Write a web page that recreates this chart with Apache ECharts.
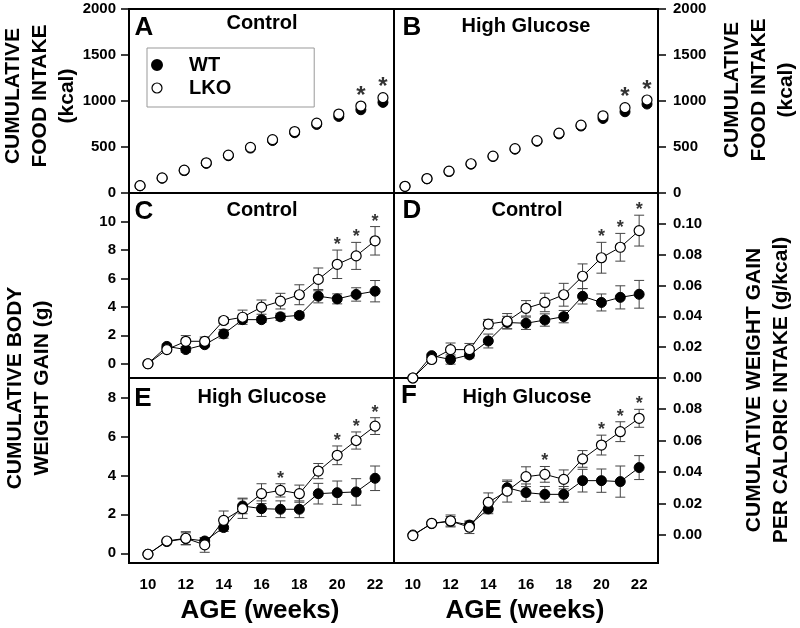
<!DOCTYPE html>
<html>
<head>
<meta charset="utf-8">
<script src="https://cdn.jsdelivr.net/npm/echarts@6/dist/echarts.min.js"></script>
<style>html,body{margin:0;padding:0;background:#fff}#chart{width:800px;height:628px}</style>
</head>
<body>
<div id="chart"></div>
<script>
// weeks on the growth panels (C-F) and on the food intake panels (A, B)
const weeks = [10, 11, 12, 13, 14, 15, 16, 17, 18, 19, 20, 21, 22]
const intakeWeeks = [11, 12, 13, 14, 15, 16, 17, 18, 19, 20, 21, 22]

// A: food intake, control diet (kcal)
const foodWTCtrl = [78, 160, 243, 322, 405, 488, 570, 655, 745, 832, 905, 985]
const foodLKOCtrl = [80, 164, 248, 328, 412, 496, 580, 668, 759, 858, 945, 1036]
// B: food intake, high glucose (kcal)
const foodWTHG = [71, 154, 233, 313, 396, 476, 562, 642, 728, 810, 883, 967]
const foodLKOHG = [73, 157, 237, 318, 401, 482, 569, 650, 737, 839, 927, 1011]

// C: body weight gain, control (g)
const gainWTCtrl = [0, 1.22, 1.0, 1.34, 2.1, 3.1, 3.1, 3.3, 3.4, 4.75, 4.56, 4.87, 5.1]
const gainWTCtrlErr = [0, 0.15, 0.2, 0.15, 0.3, 0.2, 0.2, 0.25, 0.2, 0.47, 0.35, 0.47, 0.75]
const gainLKOCtrl = [0, 1.0, 1.58, 1.58, 3.04, 3.27, 3.98, 4.4, 4.85, 5.93, 6.99, 7.58, 8.64]
const gainLKOCtrlErr = [0, 0.1, 0.4, 0.3, 0.2, 0.5, 0.5, 0.55, 0.7, 0.8, 1.0, 0.95, 1.0]

// D: gain per caloric intake, control (g/kcal)
const effWTCtrl = [0, 0.0145, 0.012, 0.015, 0.024, 0.036, 0.0355, 0.0376, 0.0398, 0.053, 0.049, 0.0523, 0.0543]
const effWTCtrlErr = [0, 0.001, 0.003, 0.002, 0.0045, 0.004, 0.004, 0.004, 0.004, 0.005, 0.0055, 0.0075, 0.009]
const effLKOCtrl = [0, 0.012, 0.0184, 0.0184, 0.035, 0.0368, 0.0452, 0.049, 0.054, 0.066, 0.078, 0.0848, 0.0956]
const effLKOCtrlErr = [0, 0.001, 0.0043, 0.004, 0.003, 0.005, 0.005, 0.006, 0.0074, 0.008, 0.010, 0.009, 0.010]

// E: body weight gain, high glucose (g)
const gainWTHG = [-0.05, 0.6, 0.75, 0.63, 1.32, 2.43, 2.29, 2.26, 2.26, 3.06, 3.11, 3.15, 3.85]
const gainWTHGErr = [0, 0.05, 0.3, 0.15, 0.2, 0.4, 0.4, 0.43, 0.43, 0.53, 0.6, 0.68, 0.63]
const gainLKOHG = [-0.05, 0.63, 0.77, 0.43, 1.69, 2.29, 3.06, 3.23, 3.06, 4.22, 5.03, 5.79, 6.53]
const gainLKOHGErr = [0, 0.05, 0.34, 0.38, 0.48, 0.5, 0.51, 0.34, 0.44, 0.39, 0.48, 0.44, 0.43]

// F: gain per caloric intake, high glucose (g/kcal)
const effWTHG = [0, 0.0072, 0.0087, 0.0063, 0.0165, 0.030, 0.0269, 0.0258, 0.0258, 0.0345, 0.0345, 0.0339, 0.0428]
const effWTHGErr = [0, 0.0005, 0.003, 0.002, 0.003, 0.004, 0.0055, 0.005, 0.005, 0.0072, 0.0074, 0.0099, 0.0076]
const effLKOHG = [-0.0004, 0.0074, 0.0089, 0.0049, 0.0207, 0.0279, 0.037, 0.0385, 0.0353, 0.0483, 0.0571, 0.0656, 0.0741]
const effLKOHGErr = [0, 0.0005, 0.0038, 0.004, 0.006, 0.007, 0.0063, 0.005, 0.006, 0.0053, 0.0063, 0.0063, 0.0057]

// weeks marked with * (significant)
const starsA = [21, 22]
const starsB = [21, 22]
const starsC = [20, 21, 22]
const starsD = [20, 21, 22]
const starsE = [17, 20, 21, 22]
const starsF = [17, 20, 21, 22]

// tick labels
const xTicks = [10, 12, 14, 16, 18, 20, 22]
const foodTicks = [0, 500, 1000, 1500, 2000]
const gainCtrlTicks = [0, 2, 4, 6, 8, 10]
const gainHGTicks = [0, 2, 4, 6, 8]
const effCtrlTicks = [0, 0.02, 0.04, 0.06, 0.08, 0.10]
const effHGTicks = [0, 0.02, 0.04, 0.06, 0.08]

const FONT = 'Liberation Sans'

let chart = echarts.init(document.getElementById('chart'))

let pairs = (xs, ys) => xs.map((x, i) => [x, ys[i]])

let yAx = (g, pos, min, max, ticks, dec) => ({
  gridIndex: g,
  type: 'value',
  position: pos,
  min: min,
  max: max,
  splitLine: { show: false },
  axisLine: { show: false },
  axisTick: { show: true, inside: false, length: 8, customValues: ticks, lineStyle: { color: '#000', width: 1.5 } },
  axisLabel: {
    customValues: ticks,
    margin: pos === 'left' ? 13 : 15,
    color: '#000',
    fontSize: 15,
    fontWeight: 'bold',
    fontFamily: FONT,
    formatter: v => dec ? v.toFixed(dec) : String(v),
  },
})

let xAx = (g, min, max, labels) => labels ? {
  gridIndex: g,
  type: 'value',
  min: min,
  max: max,
  splitLine: { show: false },
  axisLine: { show: false },
  axisTick: { show: false },
  axisLabel: { customValues: xTicks, margin: 14, color: '#000', fontSize: 15, fontWeight: 'bold', fontFamily: FONT },
} : { gridIndex: g, type: 'value', min: min, max: max, show: false }

let errorBars = (g, ys, es) => ({
  type: 'custom',
  xAxisIndex: g,
  yAxisIndex: g,
  z: 1,
  silent: true,
  data: weeks.map((w, i) => [w, ys[i], es[i]]),
  renderItem: (params, api) => {
    let x = api.value(0), y = api.value(1), e = api.value(2)
    if (!e) return
    let top = api.coord([x, y + e])
    let bot = api.coord([x, y - e])
    let st = { stroke: '#444', lineWidth: 1 }
    return {
      type: 'group',
      children: [
        { type: 'line', shape: { x1: top[0], y1: top[1], x2: bot[0], y2: bot[1] }, style: st },
        { type: 'line', shape: { x1: top[0] - 5, y1: top[1], x2: top[0] + 5, y2: top[1] }, style: st },
        { type: 'line', shape: { x1: bot[0] - 5, y1: bot[1], x2: bot[0] + 5, y2: bot[1] }, style: st },
      ],
    }
  },
})

let wtStyle = { color: '#000', borderColor: '#000', borderWidth: 1, opacity: 1 }
let lkoStyle = { color: '#fff', borderColor: '#000', borderWidth: 1.2, opacity: 1 }

let growthLine = (g, name, ys, style, z) => ({
  type: 'line',
  name: name,
  xAxisIndex: g,
  yAxisIndex: g,
  z: z,
  data: pairs(weeks, ys),
  symbol: 'circle',
  symbolSize: 10,
  showSymbol: true,
  lineStyle: { color: '#000', width: 1 },
  itemStyle: style,
})

let intakeDots = (g, name, ys, style, z) => ({
  type: 'scatter',
  name: name,
  xAxisIndex: g,
  yAxisIndex: g,
  z: z,
  data: pairs(intakeWeeks, ys),
  symbol: 'circle',
  symbolSize: 10,
  itemStyle: style,
})

let stars = (g, marks, xs, ys, es, size, dy) => ({
  type: 'scatter',
  xAxisIndex: g,
  yAxisIndex: g,
  z: 5,
  silent: true,
  symbolSize: 0,
  itemStyle: { color: 'transparent' },
  data: marks.map(w => {
    let i = xs.indexOf(w)
    return [w, ys[i] + (es ? es[i] : 0)]
  }),
  label: {
    show: true,
    position: 'inside',
    offset: [0, dy],
    formatter: '*',
    color: '#000',
    fontSize: size,
    fontWeight: 'bold',
    fontFamily: FONT,
  },
})

let txt = (text, x, y, size, rot, lh) => ({
  type: 'text',
  x: x,
  y: y,
  rotation: rot || 0,
  style: {
    text: text,
    fill: '#000',
    font: 'bold ' + size + 'px ' + FONT,
    textAlign: 'center',
    textVerticalAlign: 'middle',
    lineHeight: lh || size,
  },
})

let gridBox = { show: true, borderColor: '#000', borderWidth: 2, backgroundColor: 'transparent' }

let options = {
  animation: false,
  backgroundColor: '#fff',
  grid: [
    Object.assign({ left: 129, top: 9, width: 265, height: 184 }, gridBox),
    Object.assign({ left: 394, top: 9, width: 264, height: 184 }, gridBox),
    Object.assign({ left: 129, top: 193, width: 265, height: 185 }, gridBox),
    Object.assign({ left: 394, top: 193, width: 264, height: 185 }, gridBox),
    Object.assign({ left: 129, top: 378, width: 265, height: 185 }, gridBox),
    Object.assign({ left: 394, top: 378, width: 264, height: 185 }, gridBox),
  ],
  xAxis: [
    xAx(0, 10.5, 22.5, false),
    xAx(1, 10.5, 22.5, false),
    xAx(2, 9, 23, false),
    xAx(3, 9, 23, false),
    xAx(4, 9, 23, true),
    xAx(5, 9, 23, true),
  ],
  yAxis: [
    yAx(0, 'left', 0, 2000, foodTicks, 0),
    yAx(1, 'right', 0, 2000, foodTicks, 0),
    yAx(2, 'left', -1, 12, gainCtrlTicks, 0),
    yAx(3, 'right', 0, 0.12, effCtrlTicks, 2),
    yAx(4, 'left', -0.5, 9, gainHGTicks, 0),
    yAx(5, 'right', -0.0178, 0.0997, effHGTicks, 2),
  ],
  legend: {
    left: 147,
    top: 48,
    orient: 'vertical',
    padding: [7, 83, 9, 4],
    itemGap: 3,
    itemWidth: 40,
    itemHeight: 10,
    borderColor: '#999',
    borderWidth: 1,
    backgroundColor: '#fff',
    textStyle: { color: '#000', fontSize: 20, fontWeight: 'bold', fontFamily: FONT, lineHeight: 20, padding: [0, 0, 0, 7] },
    data: [
      { name: 'WT', icon: 'circle', itemStyle: { color: '#000', opacity: 1 } },
      { name: 'LKO', icon: 'circle', itemStyle: { color: '#fff', borderColor: '#000', borderWidth: 1.2, opacity: 1 } },
    ],
  },
  graphic: [
    txt('A', 144, 28, 26), txt('B', 412, 28, 26),
    txt('C', 144, 212, 26), txt('D', 412, 211, 26),
    txt('E', 143, 399, 26), txt('F', 409, 396, 26),
    txt('Control', 262, 23, 20), txt('High Glucose', 526, 26, 20),
    txt('Control', 262, 210, 20), txt('Control', 527, 210, 20),
    txt('High Glucose', 262, 397, 20), txt('High Glucose', 527, 397, 20),
    txt('AGE (weeks)', 260, 611, 26), txt('AGE (weeks)', 525, 611, 26),
    txt('CUMULATIVE\nFOOD INTAKE\n(kcal)', 40, 96, 21, Math.PI / 2, 27),
    txt('CUMULATIVE\nFOOD INTAKE\n(kcal)', 759, 90, 21, Math.PI / 2, 27),
    txt('CUMULATIVE BODY\nWEIGHT GAIN (g)', 29, 388, 21, Math.PI / 2, 27),
    txt('CUMULATIVE WEIGHT GAIN\nPER CALORIC INTAKE (g/kcal)', 768, 390, 21, Math.PI / 2, 27),
  ],
  series: [
    intakeDots(0, 'WT', foodWTCtrl, wtStyle, 2),
    intakeDots(0, 'LKO', foodLKOCtrl, lkoStyle, 3),
    stars(0, starsA, intakeWeeks, foodLKOCtrl, null, 24, -10),
    intakeDots(1, 'WT', foodWTHG, wtStyle, 2),
    intakeDots(1, 'LKO', foodLKOHG, lkoStyle, 3),
    stars(1, starsB, intakeWeeks, foodLKOHG, null, 24, -10),

    errorBars(2, gainWTCtrl, gainWTCtrlErr),
    errorBars(2, gainLKOCtrl, gainLKOCtrlErr),
    growthLine(2, 'WT', gainWTCtrl, wtStyle, 2),
    growthLine(2, 'LKO', gainLKOCtrl, lkoStyle, 3),
    stars(2, starsC, weeks, gainLKOCtrl, gainLKOCtrlErr, 18, -5),

    errorBars(3, effWTCtrl, effWTCtrlErr),
    errorBars(3, effLKOCtrl, effLKOCtrlErr),
    growthLine(3, 'WT', effWTCtrl, wtStyle, 2),
    growthLine(3, 'LKO', effLKOCtrl, lkoStyle, 3),
    stars(3, starsD, weeks, effLKOCtrl, effLKOCtrlErr, 18, -5),

    errorBars(4, gainWTHG, gainWTHGErr),
    errorBars(4, gainLKOHG, gainLKOHGErr),
    growthLine(4, 'WT', gainWTHG, wtStyle, 2),
    growthLine(4, 'LKO', gainLKOHG, lkoStyle, 3),
    stars(4, starsE, weeks, gainLKOHG, gainLKOHGErr, 18, -5),

    errorBars(5, effWTHG, effWTHGErr),
    errorBars(5, effLKOHG, effLKOHGErr),
    growthLine(5, 'WT', effWTHG, wtStyle, 2),
    growthLine(5, 'LKO', effLKOHG, lkoStyle, 3),
    stars(5, starsF, weeks, effLKOHG, effLKOHGErr, 18, -5),
  ],
}
chart.setOption(options)
</script>
</body>
</html>
